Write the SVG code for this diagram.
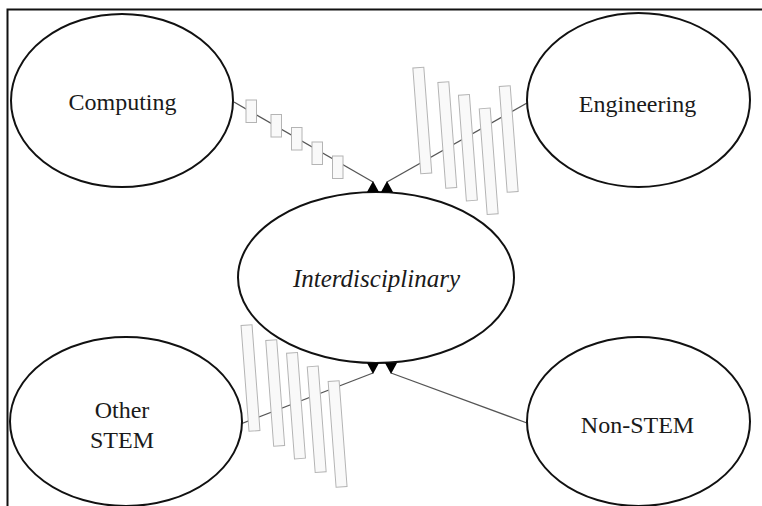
<svg xmlns="http://www.w3.org/2000/svg" width="762" height="506" viewBox="0 0 762 506">
<style>
.node{fill:#fff;stroke:#111;stroke-width:2}
.edge{stroke:#555;stroke-width:1.3;fill:none}
.box{fill:#f9f9f9;stroke:#b4b4b4;stroke-width:1}
.ah{fill:#000}
</style>
<rect x="7.5" y="9.5" width="800" height="560" fill="#fff" stroke="#111" stroke-width="2"/>
<g id="connectors">
<line class="edge" x1="234" y1="102" x2="373" y2="182"/>
<line class="edge" x1="527" y1="103" x2="387" y2="182"/>
<line class="edge" x1="238" y1="425" x2="373" y2="373"/>
<line class="edge" x1="527" y1="423" x2="391" y2="373"/>
<g id="computing-boxes">
<rect class="box" x="246" y="100" width="10.5" height="22.5"/>
<rect class="box" x="271" y="114.5" width="10.5" height="22.5"/>
<rect class="box" x="291.5" y="127.5" width="10.5" height="22.5"/>
<rect class="box" x="312" y="142" width="10.5" height="22.5"/>
<rect class="box" x="332.5" y="156" width="10.5" height="22.5"/>
</g>
<g id="engineering-boxes">
<rect class="box" x="-5.5" y="-53" width="11" height="106" transform="translate(422.3 120.5) rotate(-4.3)"/>
<rect class="box" x="-5.5" y="-53" width="11" height="106" transform="translate(447.3 135) rotate(-4.3)"/>
<rect class="box" x="-5.5" y="-53" width="11" height="106" transform="translate(467.9 147.7) rotate(-4.3)"/>
<rect class="box" x="-5.5" y="-53" width="11" height="106" transform="translate(488.7 161.3) rotate(-4.3)"/>
<rect class="box" x="-5.5" y="-53" width="11" height="106" transform="translate(508.7 139) rotate(-4.3)"/>
</g>
<g id="otherstem-boxes">
<rect class="box" x="-5.5" y="-53" width="11" height="106" transform="translate(250.5 378) rotate(-4.3)"/>
<rect class="box" x="-5.5" y="-53" width="11" height="106" transform="translate(275.2 393) rotate(-4.3)"/>
<rect class="box" x="-5.5" y="-53" width="11" height="106" transform="translate(296 405.7) rotate(-4.3)"/>
<rect class="box" x="-5.5" y="-53" width="11" height="106" transform="translate(316.7 419.3) rotate(-4.3)"/>
<rect class="box" x="-5.5" y="-53" width="11" height="106" transform="translate(337.6 434) rotate(-4.3)"/>
</g>
</g>
<g font-family="Liberation Serif, serif" font-size="24" fill="#1a1a1a" text-anchor="middle">
<g id="n-computing">
<ellipse class="node" cx="122" cy="100.5" rx="111" ry="86.5"/>
<text x="122.5" y="110">Computing</text>
</g>
<g id="n-engineering">
<ellipse class="node" cx="638.5" cy="100" rx="111.5" ry="87"/>
<text x="637.5" y="111.5">Engineering</text>
</g>
<g id="n-otherstem">
<ellipse class="node" cx="126" cy="421.5" rx="116" ry="84.5"/>
<text x="122" y="418">Other</text>
<text x="122" y="448">STEM</text>
</g>
<g id="n-nonstem">
<ellipse class="node" cx="638.5" cy="421.5" rx="111.5" ry="84.5"/>
<text x="637.5" y="433">Non-STEM</text>
</g>
<g id="n-interdisciplinary">
<ellipse class="node" cx="376" cy="277.5" rx="138" ry="85.5"/>
<text x="376.5" y="287" font-style="italic" font-size="25">Interdisciplinary</text>
</g>
</g>
<g id="arrowheads">
<polygon class="ah" points="373,181 367,192 379,192"/>
<polygon class="ah" points="387,181 381,192 393,192"/>
<polygon class="ah" points="373,374 367,363 379,363"/>
<polygon class="ah" points="391,374 385,363 397,363"/>
</g>
</svg>
